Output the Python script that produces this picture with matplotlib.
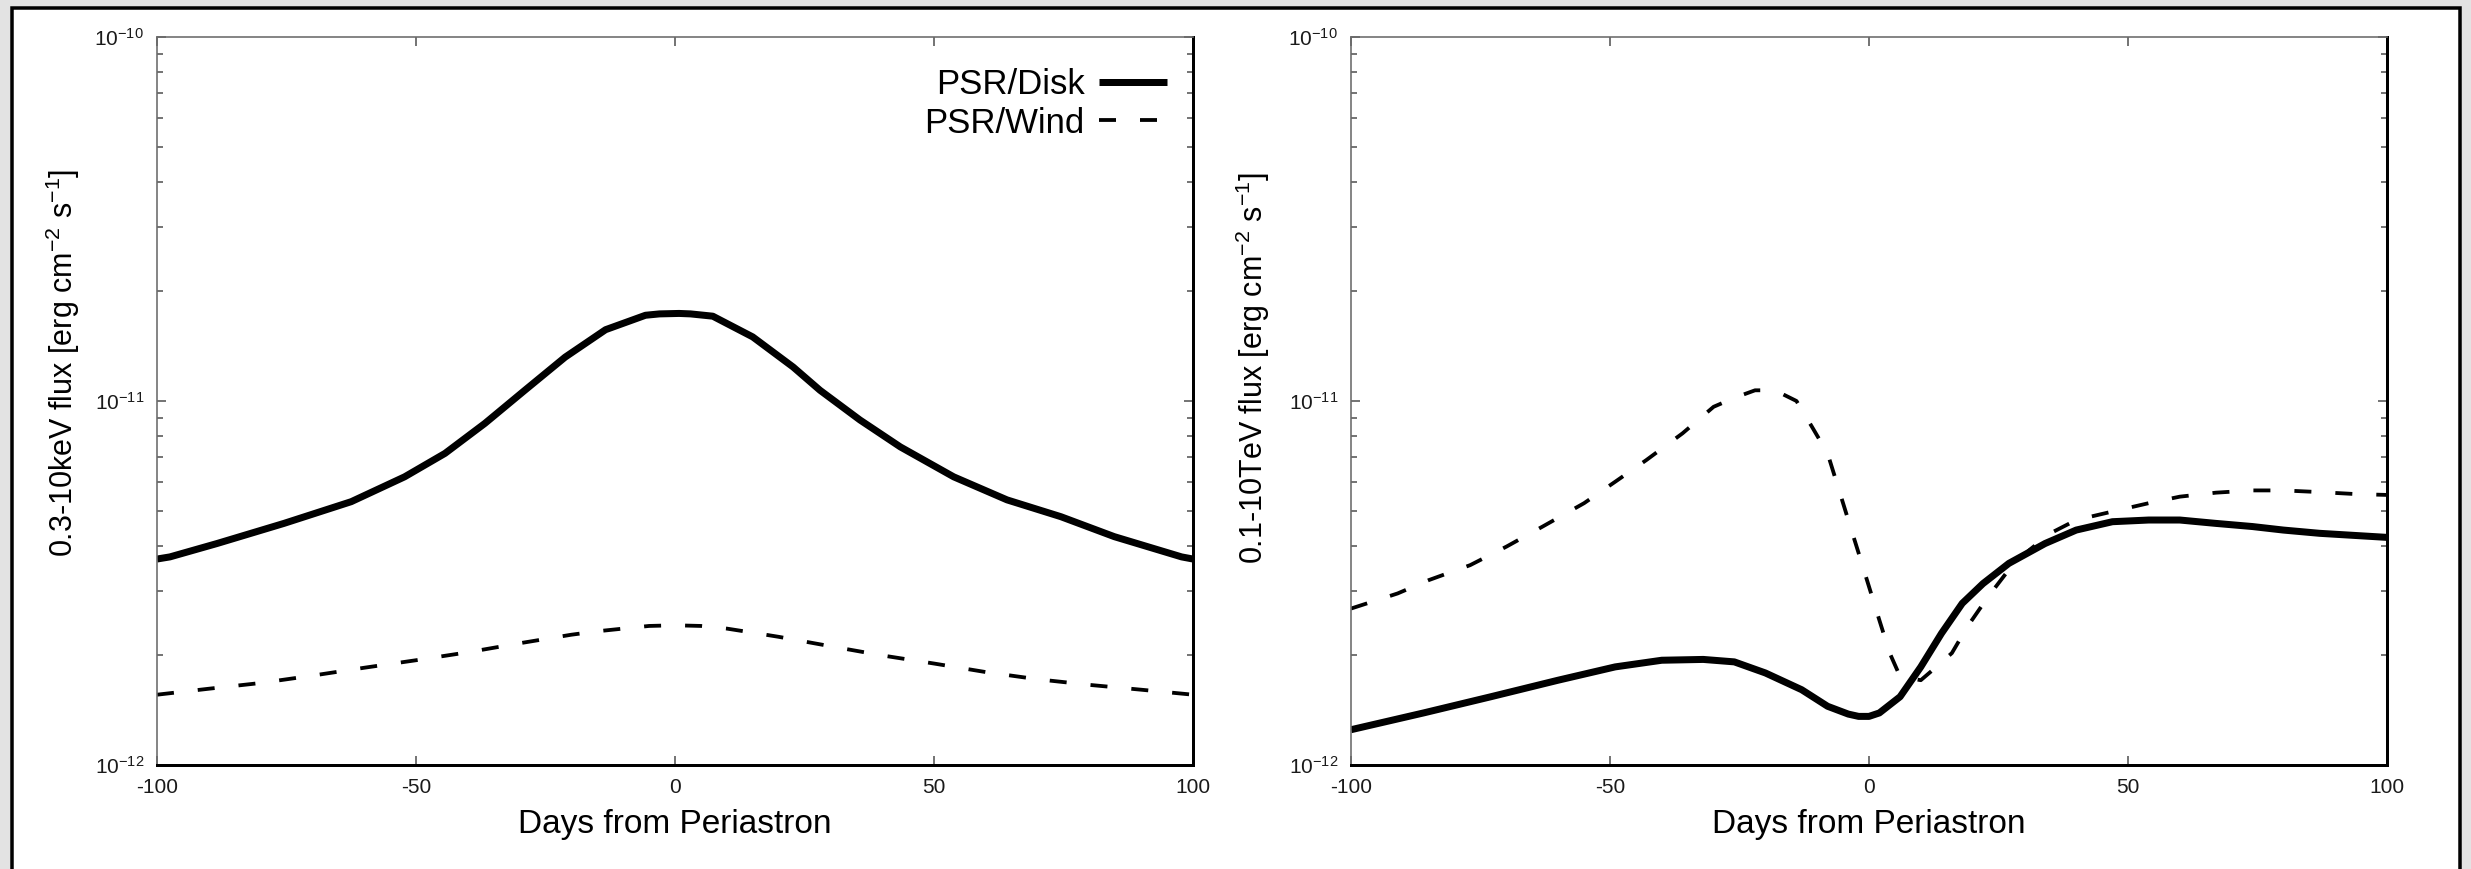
import matplotlib
matplotlib.use("Agg")
import matplotlib.pyplot as plt
from matplotlib.patches import Rectangle
from matplotlib.ticker import FixedLocator, LogLocator, NullFormatter, LogFormatterSciNotation
import numpy as np

plt.rcParams['font.family'] = ['Liberation Sans', 'DejaVu Sans']
plt.rcParams['mathtext.fontset'] = 'custom'
plt.rcParams['mathtext.rm'] = 'Liberation Sans'
plt.rcParams['mathtext.it'] = 'Liberation Sans:italic'
plt.rcParams['mathtext.bf'] = 'Liberation Sans:bold'
plt.rcParams['axes.unicode_minus'] = False
plt.rcParams['lines.scale_dashes'] = False

# ---- data: 0.3-10 keV X-ray flux (erg cm^-2 s^-1) vs days from periastron ----
days_xray_disk = [-100, -97.5, -88.4, -75.5, -62.5, -52.2, -44.4, -36.7, -29.0,
                  -21.2, -13.4, -5.7, -3.0, 0.8, 3.0, 7.3, 15.0, 22.8, 28.0,
                  35.7, 43.5, 53.8, 64.1, 74.5, 84.8, 97.8, 100]
disk_xray = [3.68e-12, 3.73e-12, 4.06e-12, 4.61e-12, 5.29e-12, 6.19e-12, 7.18e-12,
             8.68e-12, 1.07e-11, 1.32e-11, 1.57e-11, 1.72e-11, 1.735e-11, 1.74e-11,
             1.735e-11, 1.71e-11, 1.50e-11, 1.24e-11, 1.07e-11, 8.87e-12, 7.48e-12,
             6.19e-12, 5.35e-12, 4.81e-12, 4.24e-12, 3.73e-12, 3.68e-12]
days_xray_wind = [-100, -90, -80, -70, -60, -50, -40, -30, -20, -15, -10, -5, 0,
                  5, 10, 15, 20, 30, 40, 50, 60, 70, 80, 90, 100]
wind_xray = [1.56e-12, 1.62e-12, 1.68e-12, 1.76e-12, 1.85e-12, 1.94e-12, 2.04e-12,
             2.16e-12, 2.28e-12, 2.33e-12, 2.37e-12, 2.41e-12, 2.42e-12,
             2.41e-12, 2.37e-12, 2.31e-12, 2.25e-12, 2.12e-12, 2.00e-12, 1.90e-12,
             1.80e-12, 1.72e-12, 1.66e-12, 1.61e-12, 1.56e-12]

# ---- data: 0.1-10 TeV gamma-ray flux ----
days_tev_disk = [-100, -86, -73, -60, -49, -40, -32, -26, -20, -13, -8, -4, -2, 0,
                 2, 6, 10, 14, 18, 22, 27, 34, 40, 47, 54, 60, 67, 74, 80, 87, 100]
disk_tev = [1.25e-12, 1.39e-12, 1.54e-12, 1.71e-12, 1.86e-12, 1.94e-12, 1.95e-12,
            1.92e-12, 1.79e-12, 1.61e-12, 1.45e-12, 1.38e-12, 1.36e-12, 1.36e-12,
            1.39e-12, 1.54e-12, 1.86e-12, 2.30e-12, 2.78e-12, 3.15e-12, 3.58e-12,
            4.06e-12, 4.42e-12, 4.66e-12, 4.71e-12, 4.71e-12, 4.61e-12, 4.52e-12,
            4.42e-12, 4.33e-12, 4.22e-12]
days_tev_wind = [-100, -91, -85, -77, -70, -63, -55, -49, -43, -36, -30, -26, -22,
                 -19, -17, -14, -11, -8, -6, -4, -2, 0, 2, 4, 6, 10, 13, 16, 19, 23,
                 27, 31, 35, 40, 47, 54, 60, 67, 74, 80, 87, 94, 100]
wind_tev = [2.69e-12, 2.96e-12, 3.22e-12, 3.54e-12, 3.98e-12, 4.52e-12, 5.24e-12,
            6.00e-12, 6.88e-12, 8.15e-12, 9.64e-12, 1.02e-11, 1.07e-11, 1.07e-11,
            1.05e-11, 1.00e-11, 8.49e-12, 7.18e-12, 5.82e-12, 4.71e-12, 3.82e-12,
            3.09e-12, 2.50e-12, 2.03e-12, 1.75e-12, 1.71e-12, 1.86e-12, 2.03e-12,
            2.40e-12, 2.90e-12, 3.44e-12, 3.90e-12, 4.33e-12, 4.71e-12, 4.97e-12,
            5.24e-12, 5.46e-12, 5.60e-12, 5.68e-12, 5.68e-12, 5.62e-12, 5.55e-12,
            5.52e-12]

x_ticks = [-100, -50, 0, 50, 100]
x_ticklabels = ['-100', '-50', '0', '50', '100']
y_major = [1e-12, 1e-11, 1e-10]
xlabel = 'Days from Periastron'
ylabel_left = '0.3-10keV flux [erg cm$^{-2}$ s$^{-1}$]'
ylabel_right = '0.1-10TeV flux [erg cm$^{-2}$ s$^{-1}$]'
labels = ['PSR/Disk', 'PSR/Wind']

W, H, DPI = 2471, 869, 100
px = 72.0 / DPI  # points per pixel

fig = plt.figure(figsize=(W / DPI, H / DPI), dpi=DPI, facecolor='#e3e3e3')
fig.patches.append(Rectangle((12 / W, -0.05), (2460 - 12) / W, 1.05 - 8 / H,
                             transform=fig.transFigure, facecolor='white',
                             edgecolor='black', linewidth=3.5 * px, zorder=-5))

ax1 = fig.add_axes([157 / W, 1 - 765 / H, 1036 / W, 728 / H])
ax2 = fig.add_axes([1351 / W, 1 - 765 / H, 1036 / W, 728 / H])

solid_kw = dict(color='black', lw=7 * px, solid_capstyle='butt', solid_joinstyle='round')
dash_kw = dict(color='black', lw=3.8 * px, linestyle=(0, (17 * px, 24 * px)),
               dash_capstyle='butt')


def style(ax):
    ax.set_yscale('log')
    ax.set_xlim(-100, 100)
    ax.set_ylim(1e-12, 1e-10)
    ax.xaxis.set_major_locator(FixedLocator(x_ticks))
    ax.set_xticklabels(x_ticklabels)
    ax.yaxis.set_major_locator(FixedLocator(y_major))
    ax.yaxis.set_major_formatter(LogFormatterSciNotation())
    ax.yaxis.set_minor_locator(LogLocator(base=10, subs=np.arange(2, 10)))
    ax.yaxis.set_minor_formatter(NullFormatter())
    ax.tick_params(which='both', direction='in', top=True, right=True,
                   color='#555555', width=1.6 * px)
    ax.tick_params(which='major', length=9 * px, labelsize=15, pad=13 * px,
                   labelcolor='#1a1a1a')
    ax.tick_params(which='minor', length=6 * px)
    for side in ('left', 'top'):
        ax.spines[side].set_color('#6a6a6a')
        ax.spines[side].set_linewidth(1.6 * px)
    for side in ('bottom', 'right'):
        ax.spines[side].set_color('black')
        ax.spines[side].set_linewidth(3 * px)
    ax.set_xlabel(xlabel, fontsize=24)
    ax.xaxis.set_label_coords(0.5, -0.06)


style(ax1)
ax1.plot(days_xray_disk, disk_xray, label=labels[0], **solid_kw)
ax1.plot(days_xray_wind, wind_xray, label=labels[1], **dash_kw)
ax1.set_ylabel(ylabel_left, fontsize=22)
ax1.yaxis.set_label_coords(-0.072, 0.553)
ax1.legend(loc='upper right', bbox_to_anchor=(0.975, 0.957), frameon=False,
           markerfirst=False, fontsize=25, handlelength=1.95, handletextpad=0.42,
           labelspacing=0.15, borderpad=0, borderaxespad=0)

style(ax2)
ax2.plot(days_tev_disk, disk_tev, **solid_kw)
ax2.plot(days_tev_wind, wind_tev, **dash_kw)
ax2.set_ylabel(ylabel_right, fontsize=22)
ax2.yaxis.set_label_coords(-0.076, 0.545)

fig.savefig('out.png', dpi=DPI, facecolor=fig.get_facecolor())
